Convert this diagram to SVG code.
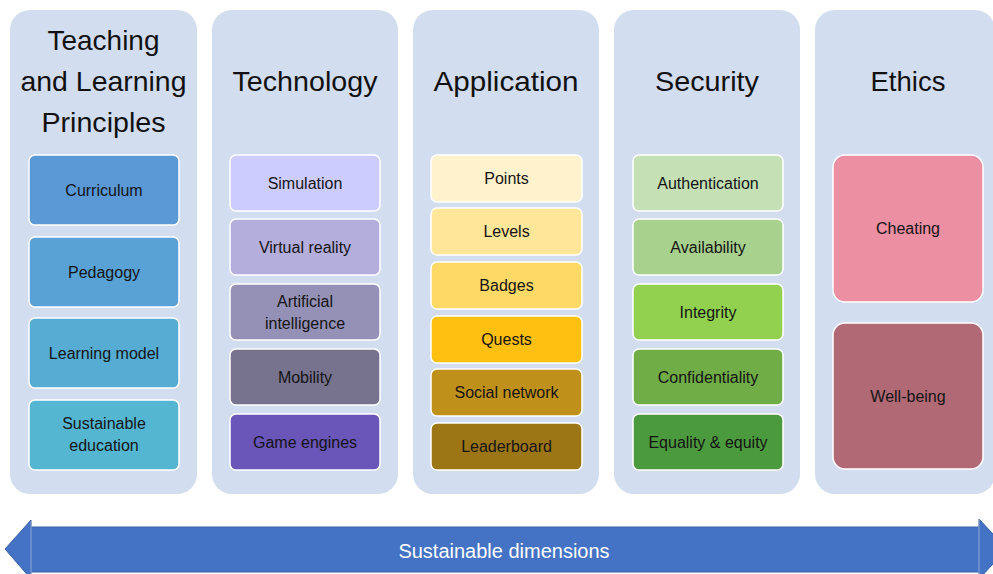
<svg xmlns="http://www.w3.org/2000/svg" width="993" height="574" viewBox="0 0 993 574">
  <style>
    .col { fill: #D2DDEF; }
    .box { stroke: #FFFFFF; stroke-width: 1.5; }
    .title { font-family: "Liberation Sans", Arial, sans-serif; font-size: 28px; fill: #111111; text-anchor: middle; }
    .lbl { font-family: "Liberation Sans", Arial, sans-serif; font-size: 16px; fill: #141414; text-anchor: middle; }
    .band { font-family: "Liberation Sans", Arial, sans-serif; font-size: 20px; fill: #FFFFFF; text-anchor: middle; }
  </style>
  <rect width="993" height="574" fill="#FFFFFF"/>

  <!-- Teaching and Learning Principles -->
  <g id="col-teaching">
    <rect class="col" x="10" y="10" width="187" height="484" rx="20"/>
    <text class="title" x="103.5" y="50" textLength="112" lengthAdjust="spacingAndGlyphs">Teaching</text>
    <text class="title" x="103.5" y="91" textLength="166" lengthAdjust="spacingAndGlyphs">and Learning</text>
    <text class="title" x="103.5" y="132" textLength="124" lengthAdjust="spacingAndGlyphs">Principles</text>
    <g id="n-curriculum"><rect class="box" x="29" y="155" width="150" height="70" rx="6" fill="#5A99D6"/><text class="lbl" x="104" y="195.5">Curriculum</text></g>
    <g id="n-pedagogy"><rect class="box" x="29" y="237" width="150" height="70" rx="6" fill="#58A2D5"/><text class="lbl" x="104" y="277.5">Pedagogy</text></g>
    <g id="n-learning-model"><rect class="box" x="29" y="318" width="150" height="70" rx="6" fill="#56ACD3"/><text class="lbl" x="104" y="358.5">Learning model</text></g>
    <g id="n-sustainable-education"><rect class="box" x="29" y="400" width="150" height="70" rx="6" fill="#54B6D1"/><text class="lbl" x="104" y="428.5">Sustainable</text><text class="lbl" x="104" y="450.5">education</text></g>
  </g>

  <!-- Technology -->
  <g id="col-technology">
    <rect class="col" x="212" y="10" width="186" height="484" rx="20"/>
    <text class="title" x="305" y="91" textLength="145" lengthAdjust="spacingAndGlyphs">Technology</text>
    <g id="n-simulation"><rect class="box" x="230" y="155" width="150" height="56" rx="6" fill="#CCCCFF"/><text class="lbl" x="305" y="188.5">Simulation</text></g>
    <g id="n-virtual-reality"><rect class="box" x="230" y="219" width="150" height="56" rx="6" fill="#B4AEDC"/><text class="lbl" x="305" y="252.5">Virtual reality</text></g>
    <g id="n-ai"><rect class="box" x="230" y="284" width="150" height="56" rx="6" fill="#9591B6"/><text class="lbl" x="305" y="306.5">Artificial</text><text class="lbl" x="305" y="328.5">intelligence</text></g>
    <g id="n-mobility"><rect class="box" x="230" y="349" width="150" height="56" rx="6" fill="#77738F"/><text class="lbl" x="305" y="382.5">Mobility</text></g>
    <g id="n-game-engines"><rect class="box" x="230" y="414" width="150" height="56" rx="6" fill="#6A55B8"/><text class="lbl" x="305" y="447.5">Game engines</text></g>
  </g>

  <!-- Application -->
  <g id="col-application">
    <rect class="col" x="413" y="10" width="186" height="484" rx="20"/>
    <text class="title" x="506" y="91" textLength="145" lengthAdjust="spacingAndGlyphs">Application</text>
    <g id="n-points"><rect class="box" x="431" y="155" width="151" height="47" rx="6" fill="#FFF2CC"/><text class="lbl" x="506.5" y="184">Points</text></g>
    <g id="n-levels"><rect class="box" x="431" y="208" width="151" height="47" rx="6" fill="#FFE699"/><text class="lbl" x="506.5" y="237">Levels</text></g>
    <g id="n-badges"><rect class="box" x="431" y="262" width="151" height="47" rx="6" fill="#FFD966"/><text class="lbl" x="506.5" y="291">Badges</text></g>
    <g id="n-quests"><rect class="box" x="431" y="316" width="151" height="47" rx="6" fill="#FFC012"/><text class="lbl" x="506.5" y="345">Quests</text></g>
    <g id="n-social-network"><rect class="box" x="431" y="369" width="151" height="47" rx="6" fill="#C0911A"/><text class="lbl" x="506.5" y="398">Social network</text></g>
    <g id="n-leaderboard"><rect class="box" x="431" y="423" width="151" height="47" rx="6" fill="#9C7614"/><text class="lbl" x="506.5" y="452">Leaderboard</text></g>
  </g>

  <!-- Security -->
  <g id="col-security">
    <rect class="col" x="614" y="10" width="186" height="484" rx="20"/>
    <text class="title" x="707" y="91" textLength="104" lengthAdjust="spacingAndGlyphs">Security</text>
    <g id="n-authentication"><rect class="box" x="633" y="155" width="150" height="56" rx="6" fill="#C5E0B4"/><text class="lbl" x="708" y="188.5">Authentication</text></g>
    <g id="n-availability"><rect class="box" x="633" y="219" width="150" height="56" rx="6" fill="#A9D18E"/><text class="lbl" x="708" y="252.5">Availability</text></g>
    <g id="n-integrity"><rect class="box" x="633" y="284" width="150" height="56" rx="6" fill="#92D050"/><text class="lbl" x="708" y="317.5">Integrity</text></g>
    <g id="n-confidentiality"><rect class="box" x="633" y="349" width="150" height="56" rx="6" fill="#70AD47"/><text class="lbl" x="708" y="382.5">Confidentiality</text></g>
    <g id="n-equality"><rect class="box" x="633" y="414" width="150" height="56" rx="6" fill="#4C9A3E"/><text class="lbl" x="708" y="447.5">Equality &amp; equity</text></g>
  </g>

  <!-- Ethics -->
  <g id="col-ethics">
    <rect class="col" x="815" y="10" width="180" height="484" rx="20"/>
    <text class="title" x="908" y="91" textLength="75" lengthAdjust="spacingAndGlyphs">Ethics</text>
    <g id="n-cheating"><rect class="box" x="833" y="155" width="150" height="147" rx="12" fill="#EC8FA3"/><text class="lbl" x="908" y="234">Cheating</text></g>
    <g id="n-well-being"><rect class="box" x="833" y="323" width="150" height="146" rx="12" fill="#B16A75"/><text class="lbl" x="908" y="401.5">Well-being</text></g>
  </g>

  <!-- Double-headed band along the bottom -->
  <g id="connectors">
    <path d="M5 549 L31 520 L31 527 L979 527 L979 519 L1007 549 L979 579 L979 572 L31 572 L31 579 Z" fill="#4472C4" stroke="#3A62A8" stroke-width="1"/>
    <line x1="31" y1="521" x2="31" y2="578" stroke="#8FA8D4" stroke-width="1"/>
    <line x1="979" y1="519" x2="979" y2="578" stroke="#8FA8D4" stroke-width="1"/>
    <text class="band" x="504" y="558">Sustainable dimensions</text>
  </g>
</svg>
